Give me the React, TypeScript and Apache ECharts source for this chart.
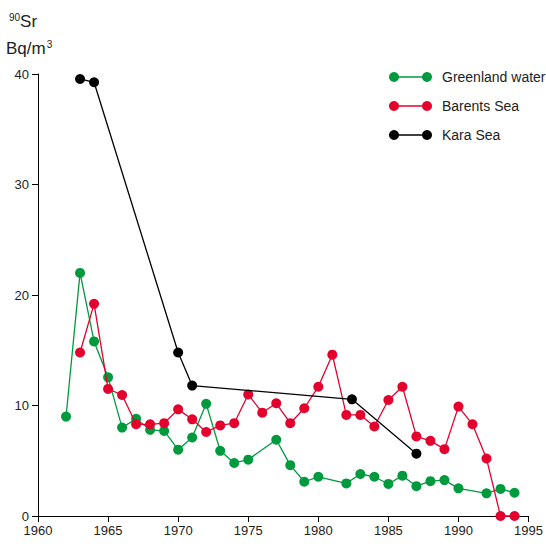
import React, { useEffect, useRef } from "react";
import * as echarts from "echarts";

const greenYears = [1962, 1963, 1964, 1965, 1966, 1967, 1968, 1969, 1970, 1971, 1972, 1973, 1974, 1975, 1977, 1978, 1979, 1980, 1982, 1983, 1984, 1985, 1986, 1987, 1988, 1989, 1990, 1992, 1993, 1994];
const greenValues = [9.0, 22.0, 15.8, 12.55, 8.0, 8.8, 7.8, 7.7, 6.0, 7.1, 10.15, 5.9, 4.8, 5.1, 6.9, 4.6, 3.1, 3.55, 2.95, 3.8, 3.55, 2.9, 3.65, 2.7, 3.15, 3.25, 2.5, 2.05, 2.45, 2.1];

const barentsYears = [1963, 1964, 1965, 1966, 1967, 1968, 1969, 1970, 1971, 1972, 1973, 1974, 1975, 1976, 1977, 1978, 1979, 1980, 1981, 1982, 1983, 1984, 1985, 1986, 1987, 1988, 1989, 1990, 1991, 1992, 1993, 1994];
const barentsValues = [14.8, 19.2, 11.5, 10.95, 8.3, 8.3, 8.4, 9.65, 8.75, 7.6, 8.2, 8.4, 11.0, 9.35, 10.2, 8.4, 9.75, 11.7, 14.6, 9.15, 9.15, 8.1, 10.5, 11.7, 7.2, 6.8, 6.05, 9.9, 8.3, 5.2, 0.0, 0.0];

const karaYears = [1963, 1964, 1970, 1971, 1982.4, 1987];
const karaValues = [39.55, 39.25, 14.8, 11.8, 10.56, 5.64];

const seriesNames = ["Greenland water", "Barents Sea", "Kara Sea"];
const seriesColors = ["#009a3e", "#e3002c", "#000000"];

const zip = (xs: number[], ys: number[]) => xs.map((x, i) => [x, ys[i]]);

export default function App() {
  const ref = useRef<HTMLDivElement>(null);
  useEffect(() => {
    if (!ref.current) return;
    const chart = echarts.init(ref.current, null, { renderer: "svg" });
    const font = "'Liberation Sans', Arial, sans-serif";
    const datasets = [zip(greenYears, greenValues), zip(barentsYears, barentsValues), zip(karaYears, karaValues)];
    const legendGraphics: any[] = [];
    const legendY = [77, 106, 135];
    seriesNames.forEach((name, i) => {
      legendGraphics.push(
        { type: "line", shape: { x1: 394, y1: legendY[i], x2: 427, y2: legendY[i] }, style: { stroke: seriesColors[i], lineWidth: 1.3 } },
        { type: "circle", shape: { cx: 394, cy: legendY[i], r: 5 }, style: { fill: seriesColors[i] } },
        { type: "circle", shape: { cx: 427, cy: legendY[i], r: 5 }, style: { fill: seriesColors[i] } },
        { type: "text", x: 442, y: legendY[i], style: { text: name, font: `14px ${font}`, fill: "#222", verticalAlign: "middle" } }
      );
    });
    chart.setOption({
      animation: false,
      grid: { left: 38, right: 14, top: 74, bottom: 31, containLabel: false },
      xAxis: {
        type: "value",
        min: 1960,
        max: 1995,
        interval: 5,
        axisLine: { show: true, lineStyle: { color: "#000", width: 1 } },
        axisTick: { show: true, length: 6, lineStyle: { color: "#000" } },
        axisLabel: { color: "#222", fontSize: 13, fontFamily: font, margin: 8, formatter: (v: number) => String(v) },
        splitLine: { show: false },
      },
      yAxis: {
        type: "value",
        min: 0,
        max: 40,
        interval: 10,
        axisLine: { show: true, lineStyle: { color: "#000", width: 1 } },
        axisTick: { show: true, length: 6, lineStyle: { color: "#000" } },
        axisLabel: { color: "#222", fontSize: 13, fontFamily: font, margin: 9 },
        splitLine: { show: false },
      },
      graphic: [
        {
          type: "text",
          x: 9,
          y: 12,
          style: {
            text: "{sup|90}{b|Sr}",
            rich: {
              sup: { fontSize: 10, fontFamily: font, fill: "#222", padding: [0, 0, 8, 0] },
              b: { fontSize: 17, fontFamily: font, fill: "#222" },
            },
          },
        },
        {
          type: "text",
          x: 6,
          y: 39,
          style: {
            text: "{b|Bq/m}{sup|3}",
            rich: {
              sup: { fontSize: 10, fontFamily: font, fill: "#222", padding: [0, 0, 8, 1] },
              b: { fontSize: 17, fontFamily: font, fill: "#222" },
            },
          },
        },
        ...legendGraphics,
      ],
      series: seriesNames.map((name, i) => ({
        name,
        type: "line",
        data: datasets[i],
        symbol: "circle",
        symbolSize: 10,
        showSymbol: true,
        clip: false,
        itemStyle: { color: seriesColors[i] },
        lineStyle: { color: seriesColors[i], width: 1.3 },
        z: 2 + i,
      })),
    });
    return () => chart.dispose();
  }, []);
  return <div ref={ref} style={{ position: "absolute", left: 0, top: 0, width: 546, height: 547 }} />;
}
